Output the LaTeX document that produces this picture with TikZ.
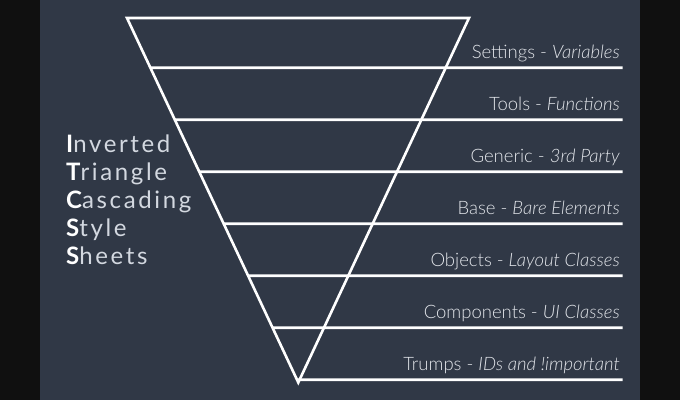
\documentclass[tikz,border=0pt]{standalone}
\usepackage{fontspec}
\usetikzlibrary{calc}
\IfFontExistsTF{Lato Light}{\setmainfont{Lato Light}}{\setmainfont{Lato}}
\newfontfamily\leftfont{Lato}[LetterSpace=11]
\definecolor{bgslate}{HTML}{303846}
\definecolor{barblack}{HTML}{101010}
\definecolor{labeltext}{HTML}{E2E5EA}
\definecolor{lefttext}{HTML}{D3D8E0}
\tikzset{
  tri/.style={draw=white, line width=2.6pt, line join=miter},
  layer/.style={draw=white, line width=2.6pt},
  lbl/.style={anchor=base east, inner sep=0pt, text=labeltext, font=\fontsize{18.5}{20}\selectfont},
  acro/.style={anchor=base west, inner sep=0pt, text=lefttext, font=\leftfont\fontsize{24}{26}\selectfont},
}
\newcommand{\firstl}[1]{{\bfseries\color{white}#1}}
\begin{document}
\begin{tikzpicture}[x=1pt,y=-1pt]
\useasboundingbox (0,0) rectangle (680,400);
\fill[barblack] (0,0) rectangle (680,400);
\fill[bgslate] (40,0) rectangle (640,400);
\coordinate (A) at (127,18);
\coordinate (B) at (469,18);
\coordinate (C) at (298.3,382.5);
\draw[tri] (A) -- (B) -- (C) -- cycle;
\foreach \yy/\nm/\txt/\it in {
  67.7/s1/Settings/Variables,
  119.7/s2/Tools/Functions,
  171.7/s3/Generic/3rd Party,
  223.7/s4/Base/Bare Elements,
  275.7/s5/Objects/Layout Classes,
  327.7/s6/Components/UI Classes,
  379.7/s7/Trumps/IDs and !important}{
  \coordinate (\nm L) at ($(A)!{(\yy-18)/364.5}!(C)$);
  \coordinate (\nm R) at (622.5,\yy);
  \draw[layer] (\nm L) -- (\nm R);
  \node[lbl] (\nm t) at (620,\yy-9) {\txt{} - \textit{\it}};
}
\node[acro] (a1) at (66,152.3) {\firstl{I}nverted};
\node[acro] (a2) at (66,180.5) {\firstl{T}riangle};
\node[acro] (a3) at (66,208.5) {\firstl{C}ascading};
\node[acro] (a4) at (66,236.5) {\firstl{S}tyle};
\node[acro] (a5) at (66,264.3) {\firstl{S}heets};
\end{tikzpicture}
\end{document}
